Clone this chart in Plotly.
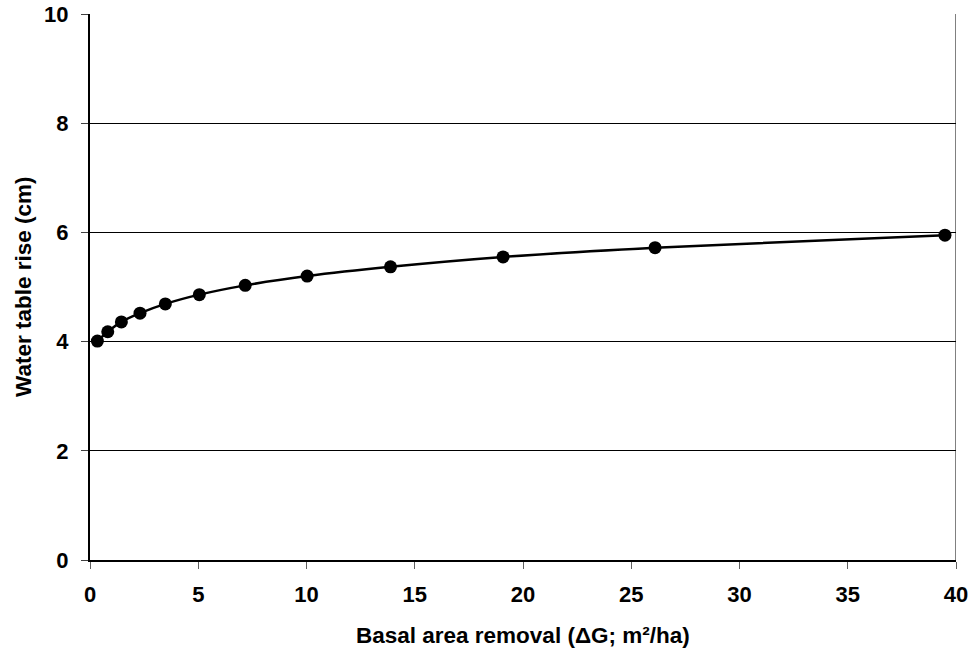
import plotly.graph_objects as go

# Basal area removal (m²/ha) and corresponding water table rise (cm)
basal_removal = [0.34, 0.82, 1.45, 2.31, 3.48, 5.05, 7.17, 10.03, 13.88, 19.08, 26.1, 39.49]
water_rise = [4.01, 4.18, 4.36, 4.52, 4.69, 4.86, 5.03, 5.20, 5.37, 5.55, 5.72, 5.95]

x_ticks = [0, 5, 10, 15, 20, 25, 30, 35, 40]
y_ticks = [0, 2, 4, 6, 8, 10]

x_title = "Basal area removal (ΔG; m²/ha)"
y_title = "Water table rise (cm)"

font_family = "Liberation Sans, Arial, sans-serif"
tick_font = dict(size=22, family=font_family, weight="bold", color="black")
title_font = dict(size=22.5, family=font_family, weight="bold", color="black")

fig = go.Figure()
fig.add_trace(go.Scatter(
    x=basal_removal,
    y=water_rise,
    mode="lines+markers",
    line=dict(color="black", width=2.5, shape="spline", smoothing=0.8),
    marker=dict(color="black", size=13),
    showlegend=False,
))

fig.update_layout(
    width=972,
    height=649,
    margin=dict(l=90, r=16, t=14, b=89),
    paper_bgcolor="white",
    plot_bgcolor="white",
    font=dict(family=font_family, color="black"),
    xaxis=dict(
        range=[0, 40],
        tickvals=x_ticks,
        ticktext=[str(v) for v in x_ticks],
        automargin=False,
        showgrid=False,
        zeroline=False,
        showline=True,
        linecolor="black",
        linewidth=2,
        ticks="outside",
        ticklen=7,
        tickwidth=1,
        tickcolor="#606060",
        ticklabelstandoff=7,
        tickfont=tick_font,
    ),
    yaxis=dict(
        range=[0, 10],
        tickvals=y_ticks,
        ticktext=[str(v) for v in y_ticks],
        automargin=False,
        showgrid=True,
        gridcolor="black",
        gridwidth=1,
        zeroline=False,
        showline=True,
        linecolor="black",
        linewidth=2,
        ticks="outside",
        ticklen=7,
        tickwidth=1,
        tickcolor="#404040",
        ticklabelstandoff=8,
        tickfont=tick_font,
    ),
)

# Axis titles
fig.add_annotation(text=x_title, xref="paper", yref="paper", x=0.5, y=0,
                   yshift=-75, xanchor="center", yanchor="middle",
                   showarrow=False, font=title_font)
fig.add_annotation(text=y_title, xref="paper", yref="paper", x=0, y=0.5,
                   xshift=-67, xanchor="center", yanchor="middle", textangle=-90,
                   showarrow=False, font=title_font)

# Right edge of the plot frame
fig.add_shape(type="line", xref="x", yref="y", x0=40, x1=40, y0=0, y1=10,
              line=dict(color="black", width=1))

fig.write_html("out.html")
